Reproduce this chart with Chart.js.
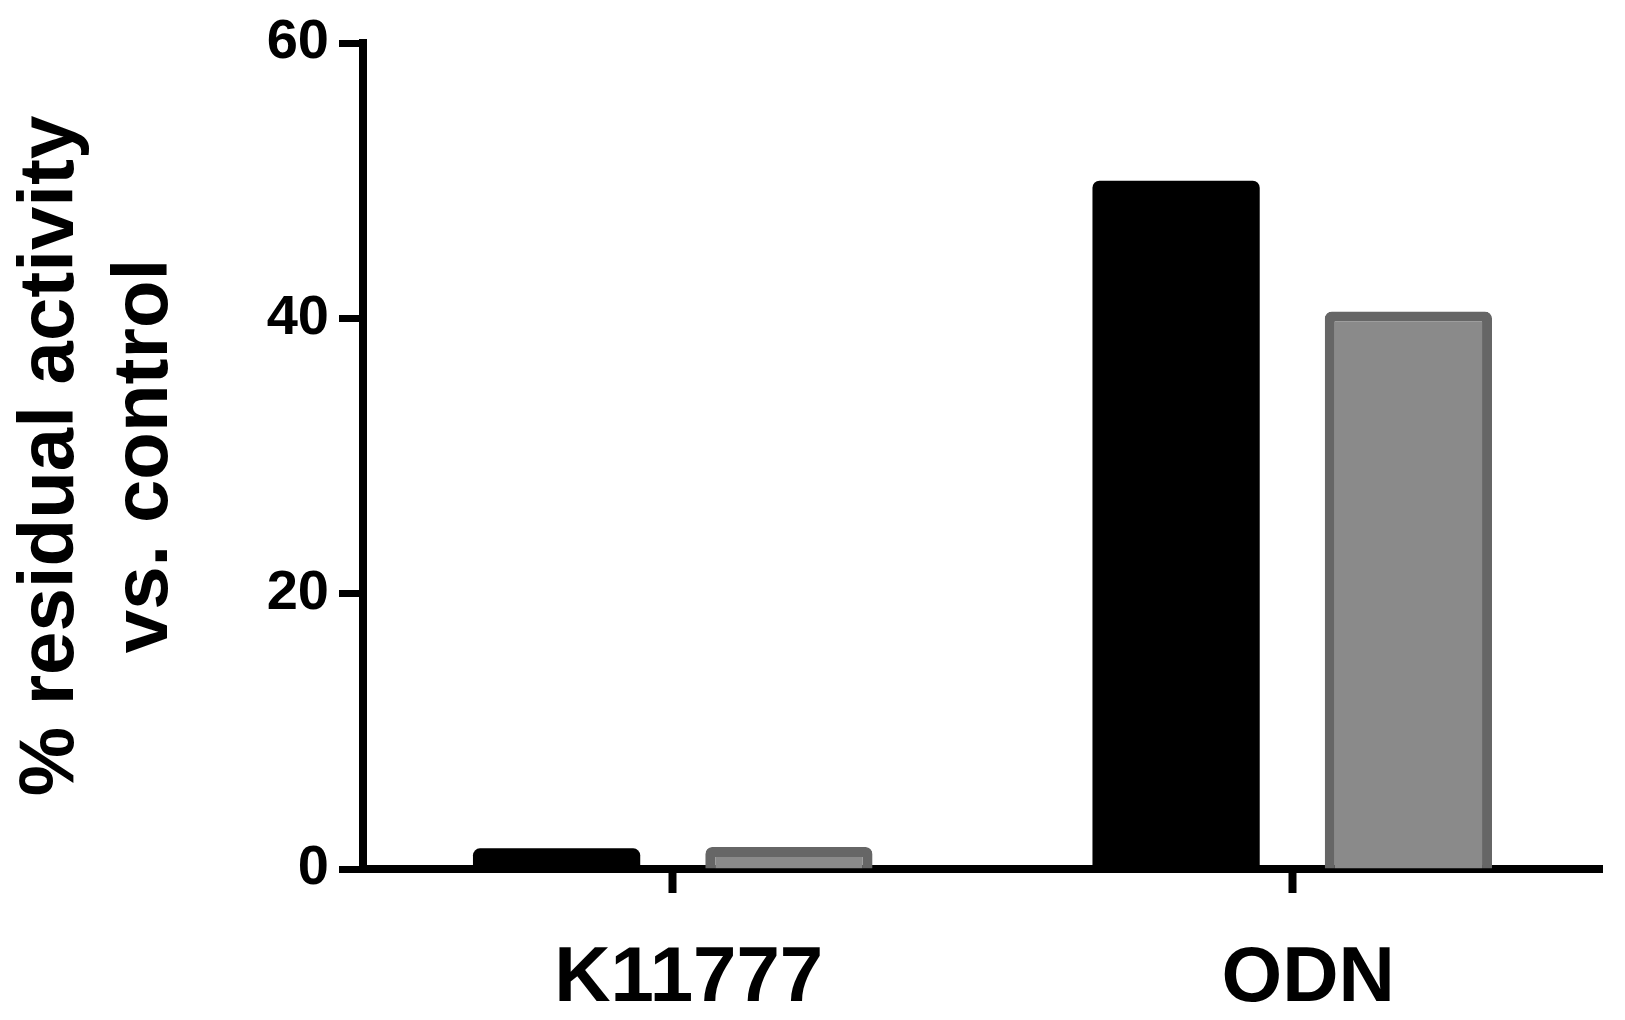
<!DOCTYPE html>
<html>
<head>
<meta charset="utf-8">
<script src="https://cdn.jsdelivr.net/npm/chart.js@4/dist/chart.umd.min.js"></script>
<style>
  html, body { margin: 0; padding: 0; background: #ffffff; }
  #wrap { width: 1625px; height: 1020px; position: relative; }
</style>
</head>
<body>
<div id="wrap"><canvas id="c" width="1625" height="1020"></canvas></div>
<script>
const categories = ["K11777", "ODN"];
const seriesBlack = [1.5, 50.0];
const seriesGray = [1.6, 40.5];
const yTicks = [0, 20, 40, 60];
const yTitle = ["% residual activity", "vs. control"];

const FONT = "'Liberation Sans', Arial, Helvetica, sans-serif";

new Chart(document.getElementById('c'), {
  type: 'bar',
  data: {
    labels: categories,
    datasets: [
      {
        label: 'Series 1',
        data: seriesBlack,
        backgroundColor: '#000000',
        borderColor: '#000000',
        borderWidth: 0,
        borderRadius: 7,
        categoryPercentage: 0.75,
        barPercentage: 0.72
      },
      {
        label: 'Series 2',
        data: seriesGray,
        backgroundColor: '#8a8a8a',
        borderColor: '#666666',
        borderWidth: 10,
        borderRadius: 7,
        categoryPercentage: 0.75,
        barPercentage: 0.72
      }
    ]
  },
  options: {
    responsive: false,
    animation: false,
    devicePixelRatio: 1,
    layout: { padding: { top: 43, right: 23, left: 0, bottom: 0 } },
    plugins: { legend: { display: false }, tooltip: { enabled: false } },
    scales: {
      x: {
        afterFit: (s) => { s.height = 151; },
        grid: { display: true, drawOnChartArea: false, tickLength: 24, tickWidth: 8, tickColor: '#000000', offset: false },
        border: { display: true, width: 8, color: '#000000' },
        ticks: { color: '#000000', padding: 40, labelOffset: 16, font: { family: FONT, size: 78, weight: 'bold' } }
      },
      y: {
        min: 0, max: 60,
        afterFit: (s) => { s.width = 363; s.paddingTop = 0; s.paddingBottom = 0; },
        afterBuildTicks: (s) => { s.ticks = yTicks.map(v => ({ value: v })); },
        grid: { display: true, drawOnChartArea: false, tickLength: 24, tickWidth: 7, tickColor: '#000000' },
        border: { display: true, width: 8, color: '#000000' },
        ticks: { color: '#000000', padding: 10, font: { family: FONT, size: 56, weight: 'bold' } },
        title: {
          display: true,
          text: yTitle,
          color: '#000000',
          padding: { top: 5, bottom: 0 },
          font: { family: FONT, size: 78, weight: 'bold', lineHeight: 1.2 }
        }
      }
    }
  }
});
</script>
</body>
</html>
